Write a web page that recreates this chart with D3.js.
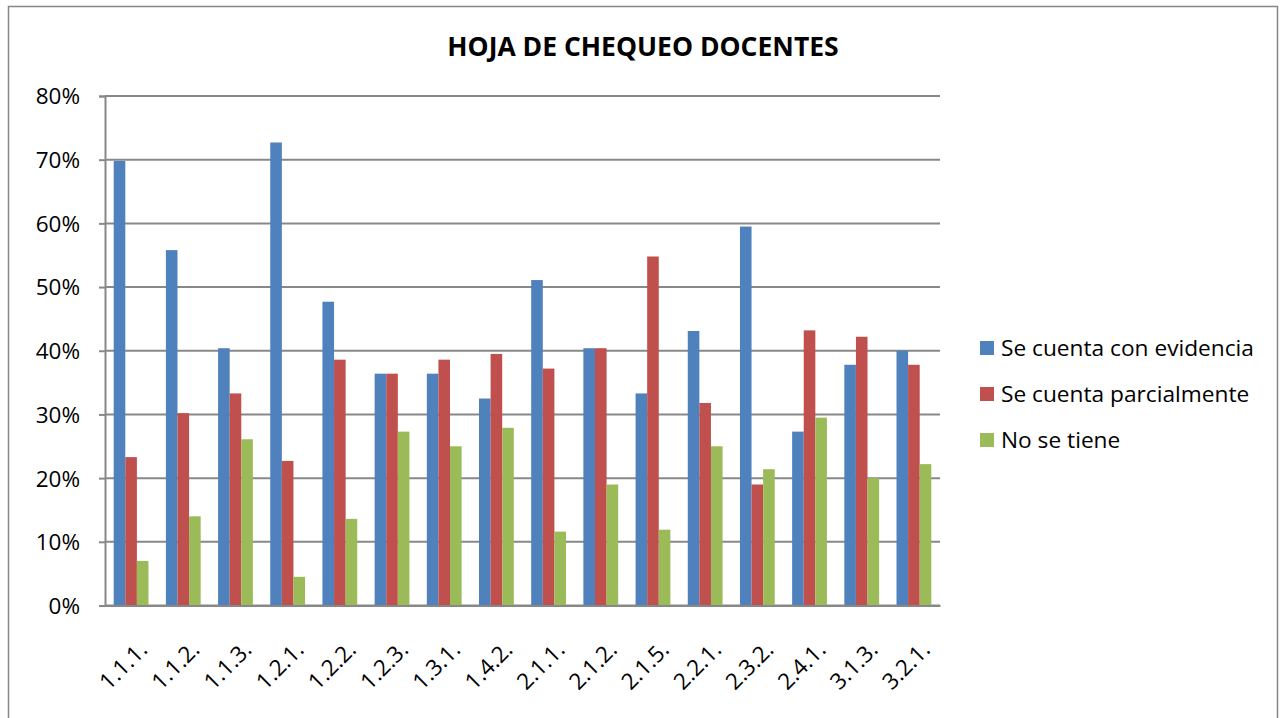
<!DOCTYPE html>
<html>
<head>
<meta charset="utf-8">
<script src="https://cdn.jsdelivr.net/npm/d3@7"></script>
<style>
  html, body { margin: 0; padding: 0; background: #fff; }
  svg { display: block; }
  text { font-family: "Open Sans", "Liberation Sans", sans-serif; fill: #000; }
</style>
</head>
<body>
<svg id="chart" width="1285" height="718"></svg>
<script>
// Indicadores evaluados
const categories = ["1.1.1.", "1.1.2.", "1.1.3.", "1.2.1.", "1.2.2.", "1.2.3.", "1.3.1.", "1.4.2.",
                    "2.1.1.", "2.1.2.", "2.1.5.", "2.2.1.", "2.3.2.", "2.4.1.", "3.1.3.", "3.2.1."];

// Porcentaje por serie (0-1)
const conEvidencia = [0.698, 0.558, 0.404, 0.727, 0.477, 0.364, 0.364, 0.325,
                      0.511, 0.404, 0.333, 0.431, 0.595, 0.273, 0.378, 0.400];
const parcialmente = [0.233, 0.302, 0.333, 0.227, 0.386, 0.364, 0.386, 0.395,
                      0.372, 0.404, 0.548, 0.318, 0.190, 0.432, 0.422, 0.378];
const noSeTiene    = [0.070, 0.140, 0.261, 0.045, 0.136, 0.273, 0.250, 0.279,
                      0.116, 0.190, 0.119, 0.250, 0.214, 0.295, 0.200, 0.222];

const seriesNames = ["Se cuenta con evidencia", "Se cuenta parcialmente", "No se tiene"];
const seriesColors = ["#4F81BD", "#C0504D", "#9BBB59"];
const yTicks = [0, 0.1, 0.2, 0.3, 0.4, 0.5, 0.6, 0.7, 0.8];
const title = "HOJA DE CHEQUEO DOCENTES";

const seriesValues = [conEvidencia, parcialmente, noSeTiene];

const svg = d3.select("#chart");

// Marco del gráfico
svg.append("rect")
  .attr("x", 8.5).attr("y", 6.5)
  .attr("width", 1269).attr("height", 720)
  .attr("fill", "#fff")
  .attr("stroke", "#868686").attr("stroke-width", 1.5);

const plot = { left: 105, right: 940, top: 96, bottom: 605.5 };

const x = d3.scaleBand().domain(categories).range([plot.left, plot.right]).padding(0);
const y = d3.scaleLinear().domain([0, 0.8]).range([plot.bottom, plot.top]);

const bw = x.bandwidth();
const barW = bw / 4.5;

// Líneas de cuadrícula
svg.append("g")
  .selectAll("line")
  .data(yTicks)
  .join("line")
  .attr("x1", plot.left).attr("x2", plot.right)
  .attr("y1", d => y(d)).attr("y2", d => y(d))
  .attr("stroke", "#888").attr("stroke-width", 2);

// Eje Y
const yAxis = d3.axisLeft(y).tickValues(yTicks).tickFormat(d3.format(".0%")).tickSize(6).tickPadding(8);
const gy = svg.append("g").attr("transform", `translate(${plot.left},0)`).call(yAxis);
gy.select(".domain").attr("stroke", "#888").attr("stroke-width", 2);
gy.selectAll(".tick line").attr("stroke", "#888").attr("stroke-width", 2);
gy.selectAll(".tick text").attr("font-size", 22.5).attr("dy", "0.35em")
  .attr("font-family", "\"Open Sans\", sans-serif").attr("x", -25);

// Barras
const groups = svg.append("g")
  .selectAll("g")
  .data(categories)
  .join("g")
  .attr("transform", d => `translate(${x(d) + bw / 2 - 1.5 * barW},0)`);

seriesValues.forEach((vals, si) => {
  groups.append("rect")
    .attr("x", si * barW)
    .attr("width", barW)
    .attr("y", (d, i) => y(vals[i]))
    .attr("height", (d, i) => y(0) - y(vals[i]))
    .attr("fill", seriesColors[si]);
});

// Eje X
const xAxis = d3.axisBottom(x).tickSize(6).tickSizeOuter(0);
const gx = svg.append("g").attr("transform", `translate(0,${plot.bottom})`).call(xAxis);
gx.select(".domain").attr("stroke", "#888").attr("stroke-width", 2);
gx.selectAll(".tick line").attr("stroke", "none");
gx.selectAll(".tick text")
  .attr("font-size", 22.5)
  .attr("font-family", "\"Open Sans\", sans-serif")
  .attr("text-anchor", "end")
  .attr("dy", "0.35em")
  .attr("transform", "translate(12,40) rotate(-45)")
  .attr("x", 0).attr("y", 0);

// Título
svg.append("text")
  .attr("x", 643).attr("y", 56)
  .attr("text-anchor", "middle")
  .attr("font-size", 26.5)
  .attr("font-weight", "bold")
  .text(title);

// Leyenda
const legend = svg.append("g").attr("transform", "translate(980,348)");
seriesNames.forEach((name, i) => {
  const g = legend.append("g").attr("transform", `translate(0,${i * 46})`);
  g.append("rect").attr("x", 0).attr("y", -7).attr("width", 14).attr("height", 14).attr("fill", seriesColors[i]);
  g.append("text").attr("x", 21).attr("y", 0).attr("dy", "0.35em").attr("font-size", 22.7).text(name);
});
</script>
</body>
</html>
